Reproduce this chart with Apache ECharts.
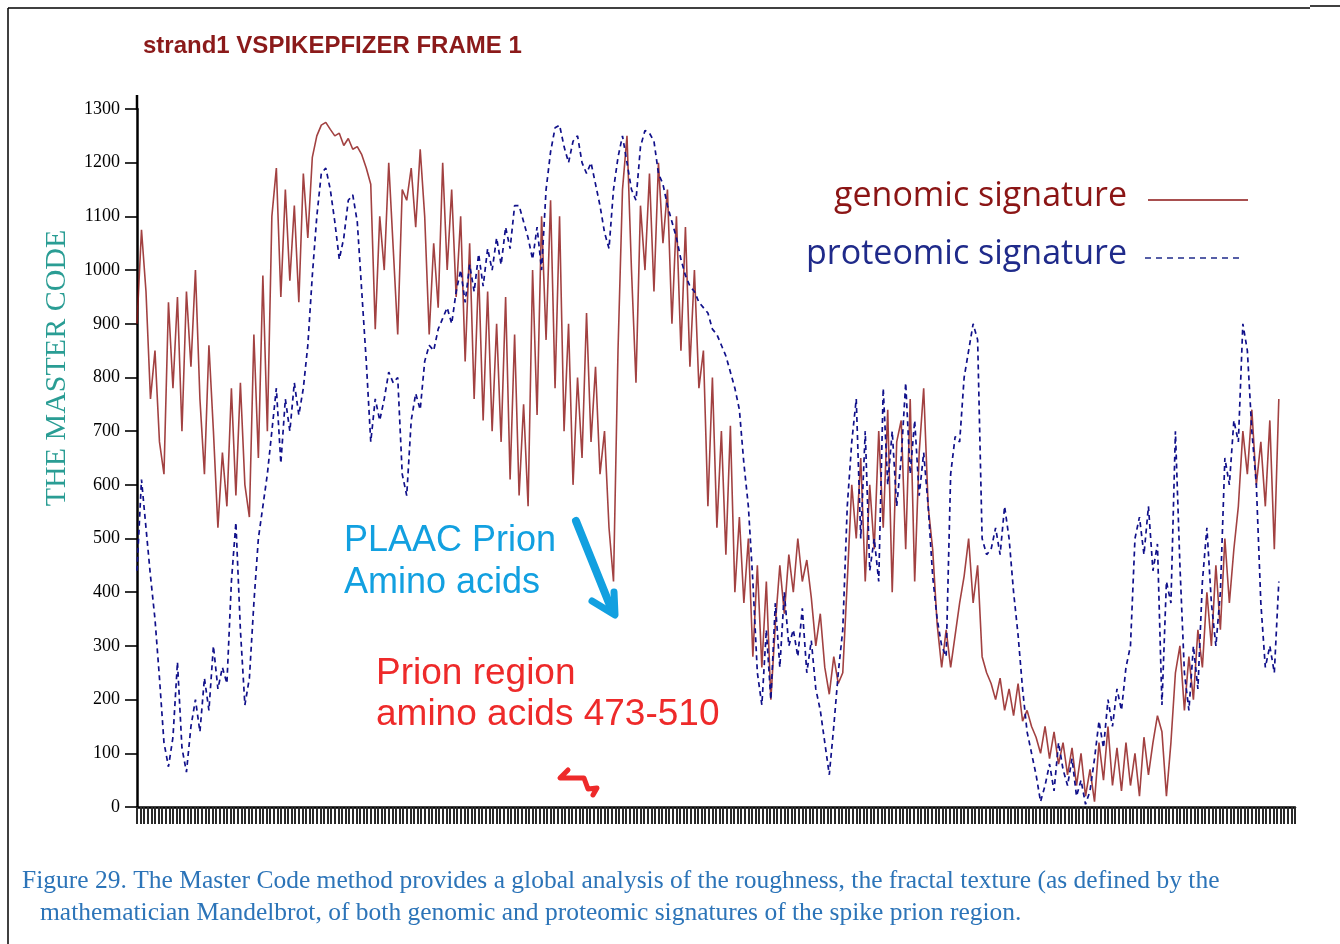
<!DOCTYPE html>
<html>
<head>
<meta charset="utf-8">
<script src="https://cdn.jsdelivr.net/npm/echarts@6/dist/echarts.min.js"></script>
<style>
html,body{margin:0;padding:0;background:#fff;}
#chart{width:1340px;height:944px;}
</style>
</head>
<body>
<div id="chart"></div>
<script>
// amino-acid position step between sampled values
const STEP = 5;
const yTicks = [0,100,200,300,400,500,600,700,800,900,1000,1100,1200,1300];

const genomic = [
 900,1075,960,760,850,680,620,940,780,950,
 700,960,820,1000,760,620,860,700,520,660,
 560,780,580,790,600,540,880,650,990,700,
 1100,1190,950,1150,980,1120,940,1180,1060,1210,
 1250,1270,1275,1262,1250,1255,1232,1245,1225,1230,
 1215,1190,1160,890,1100,1000,1200,1040,880,1150,
 1130,1190,1080,1225,1100,880,1050,930,1200,1000,
 1150,950,1100,830,1050,760,1000,720,960,700,
 900,680,950,610,880,580,750,560,1000,730,
 1100,870,1130,780,1100,700,900,600,800,650,
 920,680,820,620,700,520,420,850,1150,1250,
 1000,790,1120,1000,1180,960,1200,1050,1150,900,
 1100,850,1080,820,1000,780,850,560,800,520,
 700,470,710,400,540,380,500,280,450,260,
 420,200,340,450,360,470,400,500,420,460,
 390,300,360,260,210,280,230,250,420,600,
 500,650,420,600,480,700,520,740,400,680,
 720,480,760,420,660,780,560,480,340,260,
 330,260,320,380,430,500,380,450,280,250,
 230,200,240,180,220,170,230,160,180,150,
 130,100,150,90,140,80,120,60,110,40,
 100,20,70,10,120,50,150,40,110,30,
 120,40,100,20,130,60,120,170,140,20,
 120,250,300,180,280,200,330,260,400,300,
 450,330,500,380,480,560,700,620,740,600,
 680,560,720,480,760
];

const proteomic = [
 440,610,520,430,350,240,120,75,130,270,
 110,65,150,200,140,240,180,300,220,260,
 230,420,530,330,190,240,380,500,560,620,
 700,780,640,760,700,790,730,780,860,990,
 1100,1180,1190,1150,1090,1020,1060,1130,1140,1090,
 960,830,680,760,720,760,810,790,800,620,
 580,720,770,740,830,860,850,890,910,930,
 900,960,1000,940,1010,960,1030,970,1040,1000,
 1060,1010,1080,1040,1120,1120,1090,1060,1020,1080,
 1000,1150,1220,1265,1270,1230,1200,1240,1250,1200,
 1180,1200,1160,1120,1070,1040,1150,1210,1250,1200,
 1150,1130,1230,1260,1255,1240,1180,1160,1120,1090,
 1060,1020,990,970,960,940,930,920,890,880,
 860,840,810,780,740,640,560,420,250,190,
 330,200,380,260,400,300,330,280,370,250,
 310,220,180,120,60,150,250,330,560,680,
 760,500,700,440,500,420,780,600,700,560,
 650,790,620,720,580,660,560,430,350,300,
 280,620,690,680,800,850,900,870,500,470,
 480,520,470,560,500,400,320,220,140,100,
 60,10,40,80,30,120,70,40,90,20,
 50,5,30,90,160,110,200,150,220,180,
 260,300,500,540,470,560,440,490,190,420,
 380,700,450,250,180,300,220,420,520,380,
 300,400,650,600,720,680,900,850,700,600,
 380,260,300,250,420
];

const titleText = 'strand1 VSPIKEPFIZER FRAME 1';
const yAxisName = 'THE MASTER CODE';
const legendNames = ['genomic signature', 'proteomic signature'];
const plaacText = ['PLAAC Prion', 'Amino acids'];
const prionText = ['Prion region', 'amino acids 473-510'];
const captionLines = [
 'Figure 29. The Master Code method provides a global analysis of the roughness, the fractal texture (as defined by the',
 'mathematician Mandelbrot, of both genomic and proteomic signatures of the spike prion region.'
];

const toPairs = arr => arr.map((v, k) => [k * STEP, v]);

const chart = echarts.init(document.getElementById('chart'), null, {renderer: 'canvas'});

const serif = '"Liberation Serif", "DejaVu Serif", serif';
const sans = '"Liberation Sans", Arial, sans-serif';
const legendFont = '"Open Sans", "Noto Sans", sans-serif';

chart.setOption({
  backgroundColor: '#ffffff',
  animation: false,
  title: {
    text: titleText,
    left: 138, top: 29,
    textStyle: {fontFamily: sans, fontSize: 24, fontWeight: 'bold', color: '#8B1A1A'}
  },
  grid: {left: 137, top: 109, width: 1158, height: 698, containLabel: false},
  xAxis: {
    type: 'value', min: 0, max: 1288, interval: 4,
    axisLine: {show: true, lineStyle: {color: '#000', width: 2.5}},
    axisTick: {show: true, length: 17, lineStyle: {color: '#2a2a2a', width: 2}},
    axisLabel: {show: false},
    splitLine: {show: false}
  },
  yAxis: {
    type: 'value', min: 0, max: 1300, interval: 100,
    axisLine: {show: true, lineStyle: {color: '#000', width: 2.5}},
    axisTick: {show: true, length: 12, lineStyle: {color: '#000', width: 1.6}},
    axisLabel: {
      margin: 17, fontFamily: serif, fontSize: 18, color: '#000',
      formatter: v => (yTicks.indexOf(v) >= 0 ? String(v) : '')
    },
    splitLine: {show: false}
  },
  series: [
    {
      name: legendNames[0], type: 'line', data: toPairs(genomic),
      showSymbol: false, symbol: 'none',
      lineStyle: {color: '#8B1212', width: 1.6, opacity: 0.8},
      z: 3
    },
    {
      name: legendNames[1], type: 'line', data: toPairs(proteomic),
      showSymbol: false, symbol: 'none',
      lineStyle: {color: '#10108A', width: 1.7, type: [5, 4]},
      z: 4
    }
  ],
  graphic: [
    // frame
    {type: 'line', shape: {x1: 8, y1: 8, x2: 1310, y2: 8}, style: {stroke: '#000', lineWidth: 1.5}},
    {type: 'line', shape: {x1: 8, y1: 8, x2: 8, y2: 944}, style: {stroke: '#000', lineWidth: 1.5}},
    {type: 'line', shape: {x1: 1310, y1: 6, x2: 1340, y2: 6}, style: {stroke: '#000', lineWidth: 1.5}},
    // y-axis extension above top tick
    {type: 'line', shape: {x1: 137, y1: 95, x2: 137, y2: 110}, style: {stroke: '#000', lineWidth: 2.5}},
    // y-axis title
    {type: 'text', x: 57, y: 368, rotation: Math.PI / 2,
     style: {text: yAxisName, x: 0, y: 0, fill: '#2A9D94', font: '30px ' + serif, textAlign: 'center', textVerticalAlign: 'middle'}},
    // legend
    {type: 'text', style: {text: legendNames[0], x: 1127, y: 196, fill: '#8B1515', font: '34px ' + legendFont, textAlign: 'right', textVerticalAlign: 'middle'}},
    {type: 'text', style: {text: legendNames[1], x: 1127, y: 254, fill: '#1F2A8A', font: '34px ' + legendFont, textAlign: 'right', textVerticalAlign: 'middle'}},
    {type: 'line', shape: {x1: 1148, y1: 200, x2: 1248, y2: 200}, style: {stroke: '#8B1515', lineWidth: 1.5}},
    {type: 'line', shape: {x1: 1145, y1: 258, x2: 1242, y2: 258}, style: {stroke: '#1F2A8A', lineWidth: 1.5, lineDash: [6, 5]}},
    // PLAAC annotation
    {type: 'text', style: {text: plaacText[0], x: 344, y: 541, fill: '#12A0E0', font: '36px ' + sans, textVerticalAlign: 'middle'}},
    {type: 'text', style: {text: plaacText[1], x: 344, y: 583, fill: '#12A0E0', font: '36px ' + sans, textVerticalAlign: 'middle'}},
    {type: 'polyline', shape: {points: [[576, 521], [611, 608]]}, style: {stroke: '#12A0E0', lineWidth: 8, lineCap: 'round'}},
    {type: 'polyline', shape: {points: [[592, 601], [615, 615], [614, 592]]}, style: {stroke: '#12A0E0', lineWidth: 7, lineCap: 'round', lineJoin: 'round', fill: null}},
    // Prion region annotation
    {type: 'text', style: {text: prionText[0], x: 376, y: 674, fill: '#EE2A2A', font: '37px ' + sans, textVerticalAlign: 'middle'}},
    {type: 'text', style: {text: prionText[1], x: 376, y: 715, fill: '#EE2A2A', font: '37px ' + sans, textVerticalAlign: 'middle'}},
    {type: 'polyline', shape: {points: [[568, 770], [560, 778], [584, 778], [588, 789], [597, 788], [593, 795]]}, style: {stroke: '#EE2A2A', lineWidth: 5, lineCap: 'round', lineJoin: 'round', fill: null}},
    // caption
    {type: 'text', style: {text: captionLines[0], x: 22, y: 881, fill: '#2C74B8', font: '25.5px ' + serif, textVerticalAlign: 'middle'}},
    {type: 'text', style: {text: captionLines[1], x: 40, y: 913, fill: '#2C74B8', font: '25.5px ' + serif, textVerticalAlign: 'middle'}}
  ]
});
</script>
</body>
</html>
